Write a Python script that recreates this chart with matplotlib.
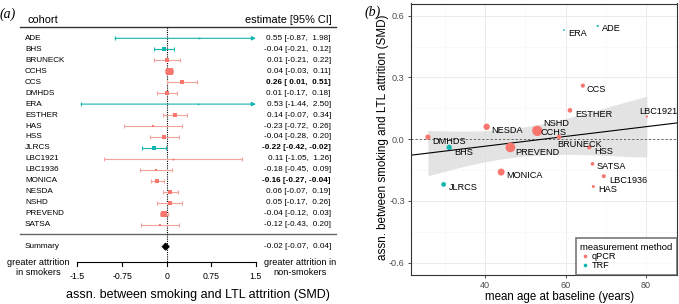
import numpy as np
import matplotlib
matplotlib.use("Agg")
import matplotlib.pyplot as plt
from matplotlib.patches import Polygon
from matplotlib.lines import Line2D

plt.rcParams['font.family'] = ['Liberation Sans', 'DejaVu Sans']

# ---------------- data ----------------
cohorts = ['ADE', 'BHS', 'BRUNECK', 'CCHS', 'CCS', 'DMHDS', 'ERA', 'ESTHER', 'HAS',
           'HSS', 'JLRCS', 'LBC1921', 'LBC1936', 'MONICA', 'NESDA', 'NSHD', 'PREVEND', 'SATSA']
est = [0.55, -0.04, 0.01, 0.04, 0.26, 0.01, 0.53, 0.14, -0.23,
       -0.04, -0.22, 0.11, -0.18, -0.16, 0.06, 0.05, -0.04, -0.12]
ci_lo = [-0.87, -0.21, -0.21, -0.03, 0.01, -0.17, -1.44, -0.07, -0.72,
         -0.28, -0.42, -1.05, -0.45, -0.27, -0.07, -0.17, -0.12, -0.43]
ci_hi = [1.98, 0.12, 0.22, 0.11, 0.51, 0.18, 2.50, 0.34, 0.26,
         0.20, -0.02, 1.26, 0.09, -0.04, 0.19, 0.26, 0.03, 0.20]
method = ['TRF', 'TRF', 'qPCR', 'qPCR', 'qPCR', 'qPCR', 'TRF', 'qPCR', 'qPCR',
          'qPCR', 'TRF', 'qPCR', 'qPCR', 'qPCR', 'qPCR', 'qPCR', 'qPCR', 'qPCR']
age = [68.0, 31.1, 58.4, 53.0, 64.3, 25.8, 59.6, 61.1, 66.9,
       65.9, 29.7, 80.2, 69.5, 44.0, 40.4, 52.4, 46.3, 66.7]

summary_est, summary_lo, summary_hi = -0.02, -0.07, 0.04

# meta-regression line and its confidence band
fit_age = [25.8, 80.2]
fit_val = [-0.068, 0.061]
band_age = [25.8, 30, 35, 40, 45, 50, 55, 60, 65, 72, 76, 80.2]
band_lo = [-0.178, -0.156, -0.131, -0.110, -0.093, -0.082, -0.076, -0.074, -0.075, -0.081, -0.085, -0.087]
band_hi = [0.042, 0.040, 0.039, 0.041, 0.048, 0.060, 0.078, 0.100, 0.125, 0.164, 0.186, 0.209]

# ---------------- styles ----------------
col = {'qPCR': '#F8766D', 'TRF': '#13B5B1'}
ci_col = {'qPCR': '#F4A29C', 'TRF': '#13B5B1'}

est_a = np.array(est)
lo_a = np.array(ci_lo)
hi_a = np.array(ci_hi)
se = (hi_a - lo_a) / 3.92
w = 1 / se ** 2
wr = np.sqrt((w - w.min()) / (w.max() - w.min()))

fig = plt.figure(figsize=(6.79, 3.04), dpi=100)

# ================= panel (a): forest plot =================
def px2x(px):
    return (px - 166.7) / 59.47

ax_a = fig.add_axes([0, 0, 340 / 679, 1])
ax_a.set_xlim(px2x(0), px2x(340))
ax_a.set_ylim(24.23, -3.493)
ax_a.axis('off')

# header
ax_a.text(px2x(27), -1.67, 'cohort', ha='left', va='center', fontsize=7.9)
ax_a.text(px2x(332), -1.67, 'estimate [95% CI]', ha='right', va='center', fontsize=7.9)
ax_a.plot([px2x(20), px2x(336)], [-1.06, -1.06], color='#333333', lw=1)
ax_a.plot([px2x(20), px2x(336)], [17.85, 17.85], color='#666666', lw=1)
ax_a.plot([0, 0], [-1.06, 20.43], color='black', lw=0.8, ls=(0, (1, 1)))

for i, name in enumerate(cohorts):
    m = method[i]
    ax_a.text(px2x(25), i, name, ha='left', va='center', fontsize=5.9)
    sig = ci_lo[i] > 0 or ci_hi[i] < 0
    txt = '%.2f [%5.2f, %5.2f]' % (est[i], ci_lo[i], ci_hi[i])
    ax_a.text(px2x(331), i, txt, ha='right', va='center', fontsize=5.9,
              fontweight='bold' if sig else 'normal')
    if ci_hi[i] > 1.5:
        ax_a.annotate('', xy=(1.5, i), xytext=(ci_lo[i], i),
                      arrowprops=dict(arrowstyle='-|>', color=ci_col[m], lw=0.8,
                                      shrinkA=0, shrinkB=0, mutation_scale=6))
        ax_a.plot([ci_lo[i]], [i], marker='|', ms=3, color=ci_col[m], mew=0.8)
    else:
        ax_a.errorbar(est[i], i, xerr=[[est[i] - ci_lo[i]], [ci_hi[i] - est[i]]],
                      fmt='none', ecolor=ci_col[m], elinewidth=0.8, capsize=1.5,
                      capthick=0.8)
    side = 1.5 + 5.5 * wr[i]
    ax_a.plot(est[i], i, marker='s', ms=side * 0.72, color=col[m], mew=0, zorder=3)

# summary diamond
ax_a.text(px2x(25), 19, 'Summary', ha='left', va='center', fontsize=5.9)
ax_a.add_patch(Polygon([[summary_lo, 19], [summary_est, 18.7], [summary_hi, 19], [summary_est, 19.3]],
                       closed=True, color='black', zorder=4))
ax_a.text(px2x(331), 19, '%.2f [%5.2f, %5.2f]' % (summary_est, summary_lo, summary_hi),
          ha='right', va='center', fontsize=5.9)

# bottom axis
ticks = [-1.5, -0.75, 0, 0.75, 1.5]
tick_lbl = ['-1.5', '-0.75', '0', '0.75', '1.5']
ax_a.plot([-1.5, 1.5], [20.43, 20.43], color='black', lw=0.8)
for t, lb in zip(ticks, tick_lbl):
    ax_a.plot([t, t], [20.43, 20.75], color='black', lw=0.8)
    ax_a.text(t, 21.74, lb, ha='center', va='center', fontsize=6.3)
ax_a.text(px2x(38), 20.9, 'greater attrition\nin smokers', ha='center', va='center',
          fontsize=6.6, linespacing=1.25)
ax_a.text(px2x(300), 20.9, 'greater attrition in\nnon-smokers', ha='center', va='center',
          fontsize=6.6, linespacing=1.25)
ax_a.text(px2x(198), (295 - 38.3) / 10.965, 'assn. between smoking and LTL attrition (SMD)',
          ha='center', va='center', fontsize=9)

fig.text(8 / 679, 1 - 14 / 304, '(a)', family='Liberation Serif', style='italic',
         fontsize=10, ha='center', va='center')

# ================= panel (b): meta-regression =================
ax_b = fig.add_axes([411 / 679, 29 / 304, 266 / 679, 271.5 / 304])
ax_b.set_xlim(21.6, 87.7)
ax_b.set_ylim(-0.66, 0.659)
ax_b.set_xticks([40, 60, 80])
ax_b.set_xticks([30, 50, 70], minor=True)
ax_b.set_yticks([-0.6, -0.3, 0, 0.3, 0.6])
ax_b.set_yticklabels(['-0.6', '-0.3', '0.0', '0.3', '0.6'])
ax_b.set_yticks([-0.45, -0.15, 0.15, 0.45], minor=True)
ax_b.grid(which='major', color='#EBEBEB', lw=0.7)
ax_b.grid(which='minor', color='#F5F5F5', lw=0.4)
ax_b.set_axisbelow(True)
ax_b.tick_params(which='major', length=2.5, width=0.6, color='#333333',
                 labelsize=6.6, labelcolor='#4D4D4D', pad=2)
ax_b.tick_params(which='minor', length=0)
for s in ax_b.spines.values():
    s.set_color('#333333')
    s.set_linewidth(0.8)

ax_b.fill_between(band_age, band_lo, band_hi, color='#DCDCDC', alpha=0.8, lw=0, zorder=1)
ax_b.axhline(0, color='#333333', lw=0.5, ls=(0, (3, 3)), zorder=1.5)
ax_b.axline((fit_age[0], fit_val[0]), (fit_age[1], fit_val[1]), color='black', lw=0.8, zorder=2)

diam = 1.8 + 8.5 * wr
ax_b.scatter(age, est, s=(diam * 0.72) ** 2, c=[col[m] for m in method], lw=0, zorder=3)

label_off = {'ADE': (4, -3), 'ERA': (4, -3), 'CCS': (4, -4), 'ESTHER': (5, -4.5),
             'LBC1921': (-8, 5), 'NESDA': (5, -4), 'NSHD': (8, 5), 'CCHS': (3, -2),
             'DMHDS': (4, -4.5), 'BRUNECK': (-2, -7), 'BHS': (5, -5), 'PREVEND': (5, -5),
             'HSS': (5, -4), 'SATSA': (4, -3), 'MONICA': (5, -3), 'LBC1936': (5, -4),
             'HAS': (5, -3.5), 'JLRCS': (5, -3)}
for i, name in enumerate(cohorts):
    ax_b.annotate(name, (age[i], est[i]), xytext=label_off[name], textcoords='offset pixels',
                  ha='left', va='center', fontsize=6.6, zorder=4)

handles = [Line2D([], [], ls='none', marker='o', ms=1.6, color=col['qPCR'], label='qPCR'),
           Line2D([], [], ls='none', marker='o', ms=1.6, color=col['TRF'], label='TRF')]
leg = ax_b.legend(handles=handles, title='measurement method', loc='lower right',
                  fontsize=6.6, title_fontsize=6.8, frameon=True, fancybox=False,
                  edgecolor='#555555', borderaxespad=0.05, handlelength=1.1,
                  handletextpad=0.2, labelspacing=0.05, borderpad=0.45, alignment='left')
leg.get_frame().set_linewidth(1.2)

fig.text(383 / 679, 1 - 137 / 304, 'assn. between smoking and LTL attrition (SMD)',
         rotation=90, ha='center', va='center', fontsize=8.4)
fig.text(559.5 / 679, 1 - 297 / 304, 'mean age at baseline (years)',
         ha='center', va='center', fontsize=8.3)
fig.text(373 / 679, 1 - 12 / 304, '(b)', family='Liberation Serif', style='italic',
         fontsize=10, ha='center', va='center')

fig.savefig('out.png', dpi=100)
